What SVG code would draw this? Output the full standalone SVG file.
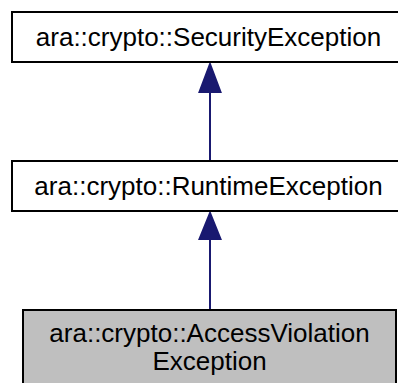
<svg xmlns="http://www.w3.org/2000/svg" width="398" height="383" viewBox="0 0 398 383">
<style>
.box{fill:#ffffff;stroke:#000000;stroke-width:2}
.cur{fill:#bfbfbf;stroke:#000000;stroke-width:2}
.lbl{font-family:"Liberation Sans",Arial,sans-serif;font-size:26px;fill:#000000;text-anchor:middle}
.edge{stroke:#191970;stroke-width:2;fill:none}
.head{fill:#191970;stroke:#191970;stroke-width:2}
</style>
<rect width="398" height="383" fill="#ffffff"/>
<g id="edges">
<line class="edge" x1="210" y1="161" x2="210" y2="92"/>
<polygon class="head" points="210,64 199.5,92 220.5,92"/>
<line class="edge" x1="210" y1="310" x2="210" y2="239"/>
<polygon class="head" points="210,213 199.5,239 220.5,239"/>
</g>
<g id="node-security">
<rect class="box" x="12" y="12" width="396" height="50"/>
<text class="lbl" x="208.5" y="46">ara::crypto::SecurityException</text>
</g>
<g id="node-runtime">
<rect class="box" x="12" y="161" width="396" height="50"/>
<text class="lbl" x="208.5" y="195">ara::crypto::RuntimeException</text>
</g>
<g id="node-access">
<rect class="cur" x="23" y="310" width="373" height="80"/>
<text class="lbl" x="209.5" y="342">ara::crypto::AccessViolation</text>
<text class="lbl" x="209.5" y="370">Exception</text>
</g>
</svg>
